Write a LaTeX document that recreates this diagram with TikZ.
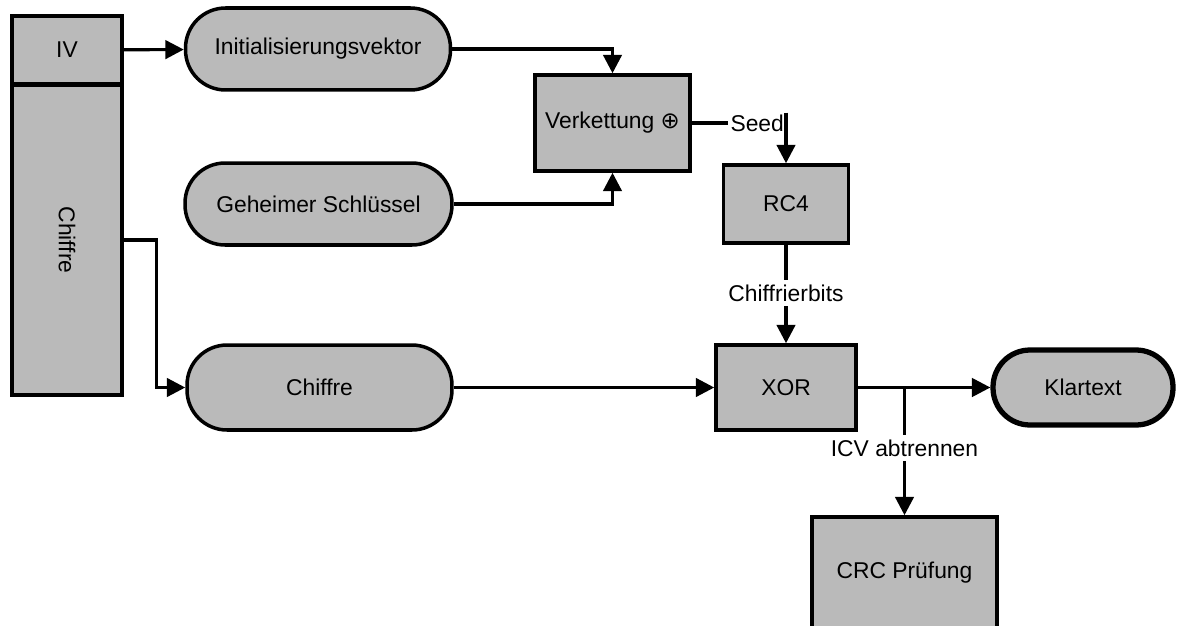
\documentclass[tikz,border=0pt]{standalone}
\usepackage{fontspec}
\setmainfont{Liberation Sans}
\newfontfamily\symfont{DejaVu Sans}
\usetikzlibrary{arrows.meta,positioning,calc}

\begin{document}
\begin{tikzpicture}[x=0.02cm, y=-0.02cm,
  every node/.style={font=\fontsize{13}{15}\selectfont},
  box/.style={draw, line width=2pt, fill=black!27, align=center, inner sep=2pt},
  pill/.style={box, rounded corners=8mm},
  lbl/.style={inner sep=2.5pt},
  ln/.style={line width=1.8pt},
  ar/.style={ln, -{Triangle[length=10.5pt,width=10.5pt]}},
]
  \useasboundingbox (0,0) rectangle (1179,625);
  \clip (0,0) rectangle (1179,625);
  % left column: received frame
  \node[box, minimum width=2.2cm, minimum height=1.36cm] (iv) at (67,50) {IV};
  \node[box, minimum width=2.2cm, minimum height=6.2cm] (chbox) at (67,240) {\rotatebox{-90}{Chiffre}};
  % inputs
  \node[pill, minimum width=5.3cm, minimum height=1.64cm] (init) at (318,49) {Initialisierungsvektor};
  \node[pill, minimum width=5.34cm, minimum height=1.64cm] (key) at (318.5,204) {Geheimer Schlüssel};
  \node[pill, minimum width=5.3cm, minimum height=1.7cm] (chiff) at (319.5,387.5) {Chiffre};
  % key stream
  \node[box, minimum width=3.1cm, minimum height=1.92cm] (verk) at (612.5,123) {Verkettung {\symfont ⊕}};
  \node[box, minimum width=2.5cm, minimum height=1.56cm] (rc4) at (786,204) {RC4};
  \node[box, minimum width=2.8cm, minimum height=1.7cm] (xor) at (786,387.5) {XOR};
  % outputs
  \node[pill, rounded corners=7.4mm, line width=3pt, minimum width=3.6cm, minimum height=1.5cm] (klar) at (1083,387.5) {Klartext};
  \node[box, minimum width=3.7cm, minimum height=2.24cm] (crc) at (904.5,573) {CRC Prüfung};
  % connectors
  \draw[ar] (iv) -- (init);
  \draw[ar] (init.east) -| (verk.north);
  \draw[ar] (key.east) -| (verk.south);
  \coordinate (sk) at (rc4.north |- verk.east);
  \node[anchor=east, inner sep=1pt] (seed) at (sk) {Seed};
  \draw[ln] (verk.east) -- (seed.west);
  \draw[ar] (sk |- seed.north) -- (rc4.north);
  \node[lbl] (bits) at (786,293) {Chiffrierbits};
  \draw[ln] (rc4.south) -- (bits.north);
  \draw[ar] (bits.south) -- (xor.north);
  \draw[ar] (chbox.east) -- ++(33,0) |- (chiff.west);
  \draw[ar] (chiff) -- (xor);
  \draw[ar] (xor) -- (klar);
  \coordinate (br) at (crc.north |- xor.east);
  \node[lbl] (icv) at (904.5,448) {ICV abtrennen};
  \draw[ln] (br) -- (icv.north);
  \draw[ar] (icv.south) -- (crc.north);
\end{tikzpicture}
\end{document}
